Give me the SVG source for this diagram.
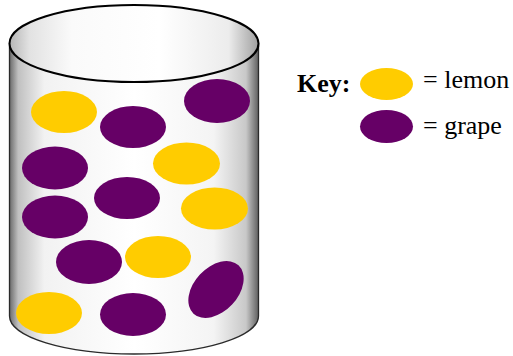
<svg xmlns="http://www.w3.org/2000/svg" width="513" height="356" viewBox="0 0 513 356">
<defs>
<linearGradient id="body" x1="0" y1="0" x2="1" y2="0">
<stop offset="0" stop-color="#6a6a6a"/>
<stop offset="0.035" stop-color="#c0c0c0"/>
<stop offset="0.14" stop-color="#f2f2f2"/>
<stop offset="0.5" stop-color="#ffffff"/>
<stop offset="0.82" stop-color="#f4f4f4"/>
<stop offset="0.95" stop-color="#c8c8c8"/>
<stop offset="1" stop-color="#606060"/>
</linearGradient>
<linearGradient id="inner" x1="0" y1="0" x2="1" y2="0">
<stop offset="0" stop-color="#b5b5b5"/>
<stop offset="0.08" stop-color="#e2e2e2"/>
<stop offset="0.25" stop-color="#fafafa"/>
<stop offset="0.6" stop-color="#ffffff"/>
<stop offset="0.88" stop-color="#ececec"/>
<stop offset="1" stop-color="#a0a0a0"/>
</linearGradient>
<style>
.lemon{fill:#FFCC00}
.grape{fill:#660066}
.t{font-size:26px;fill:#000}
</style>
</defs>
<g id="jar">
<path d="M9.5,43.5 L9.5,316 A124.5,38 0 0,0 258.5,316 L258.5,43.5 Z" fill="url(#body)" stroke="#2a2a2a" stroke-width="1.3"/>
<ellipse cx="134" cy="43.5" rx="124.5" ry="38.5" fill="url(#inner)" stroke="#000" stroke-width="2"/>
</g>
<g id="candies">
<ellipse class="lemon" cx="64" cy="112" rx="33" ry="21"/>
<ellipse class="grape" cx="133" cy="127" rx="33" ry="21"/>
<ellipse class="grape" cx="217" cy="101" rx="33" ry="22"/>
<ellipse class="grape" cx="55" cy="168" rx="33" ry="21.5"/>
<ellipse class="lemon" cx="186.5" cy="163.5" rx="33.5" ry="21"/>
<ellipse class="grape" cx="127" cy="198" rx="33" ry="21"/>
<ellipse class="grape" cx="55" cy="217" rx="33" ry="21.5"/>
<ellipse class="lemon" cx="214.5" cy="208.5" rx="33.5" ry="21"/>
<ellipse class="grape" cx="89" cy="262" rx="33" ry="22"/>
<ellipse class="lemon" cx="158" cy="257" rx="33" ry="21"/>
<ellipse class="grape" cx="216" cy="289.5" rx="33" ry="22" transform="rotate(-47 216 289.5)"/>
<ellipse class="lemon" cx="49" cy="313" rx="33" ry="21"/>
<ellipse class="grape" cx="133" cy="314.5" rx="33" ry="21.5"/>
</g>
<g id="key" font-family="'Liberation Serif', 'Times New Roman', serif">
<text class="t" x="297" y="92" font-weight="bold">Key:</text>
<ellipse class="lemon" cx="386.5" cy="84" rx="26.5" ry="16"/>
<text class="t" x="423" y="88">= lemon</text>
<ellipse class="grape" cx="386.5" cy="126.5" rx="26.5" ry="16.5"/>
<text class="t" x="423" y="134">= grape</text>
</g>
</svg>
